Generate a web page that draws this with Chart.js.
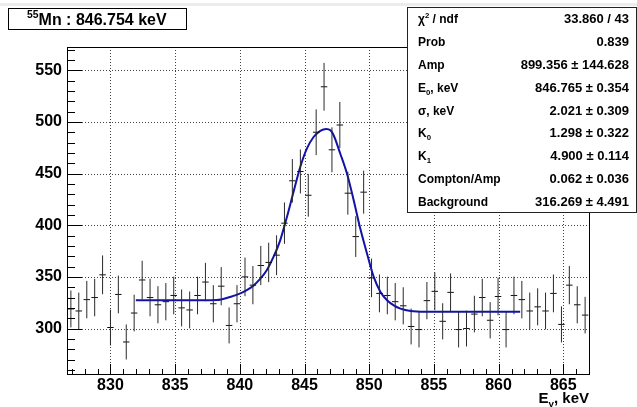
<!DOCTYPE html>
<html>
<head>
<meta charset="utf-8">
<script src="https://cdn.jsdelivr.net/npm/chart.js@4/dist/chart.umd.min.js"></script>
<style>
  html, body { margin: 0; padding: 0; background: #fff; }
  #wrap { width: 637px; height: 407px; }
</style>
</head>
<body>
<div id="wrap"><canvas id="spectrum" width="637" height="407"></canvas></div>
<script>
// bin centres, keV
const energies = [
  826.94, 827.55, 828.17, 828.78, 829.39, 830.00, 830.61, 831.22, 831.83, 832.45,
  833.06, 833.67, 834.28, 834.89, 835.50, 836.12, 836.73, 837.34, 837.95, 838.56,
  839.17, 839.78, 840.40, 841.01, 841.62, 842.23, 842.84, 843.45, 844.06, 844.68,
  845.29, 845.90, 846.51, 847.12, 847.73, 848.35, 848.96, 849.57, 850.18, 850.79,
  851.40, 852.01, 852.63, 853.24, 853.85, 854.46, 855.07, 855.68, 856.29, 856.91,
  857.52, 858.13, 858.74, 859.35, 859.96, 860.58, 861.19, 861.80, 862.41, 863.02,
  863.63, 864.24, 864.86, 865.47, 866.08, 866.69
];
// counts per bin
const counts = [
  319, 317, 328, 330, 352, 301, 333, 287, 315, 347,
  330, 323, 326, 332, 320, 318, 332, 345, 324, 341,
  303, 324, 350, 342, 361, 364, 371, 402, 443, 452,
  429, 490, 534, 473, 497, 431, 389, 432, 349, 334,
  332, 326, 322, 302, 299, 327, 336, 307, 335, 299,
  300, 314, 330, 308, 331, 299, 332, 328, 317, 321,
  317, 334, 304, 342, 323, 313
];
// fit curve
const fitEnergies = [
  831.96, 836.0, 838.2, 839.25, 840.04, 840.5, 841.05, 841.57, 842.08, 842.6,
  843.12, 843.64, 844.15, 844.67, 845.18, 845.7, 846.22, 846.68, 847.0, 847.25,
  847.76, 848.28, 848.8, 849.31, 849.83, 850.35, 850.87, 851.38, 851.9, 852.42,
  853.2, 854.36, 861.67
];
const fitValues = [
  327.3, 327.3, 327.6, 330.6, 334.0, 337.0, 341.5, 348.0, 356.4, 369.3,
  385.4, 408.0, 432.2, 456.4, 474.2, 485.4, 491.3, 493.2, 491.9, 487.1,
  469.4, 450.0, 424.2, 396.8, 372.6, 350.0, 335.4, 327.4, 322.5, 319.3,
  317.0, 316.3, 316.3
];

const titleText = "^{55}Mn : 846.754 keV";
const xTitle = "E_{\u03b3}, keV";
const statLabels = ["\u03c7^{2} / ndf", "Prob", "Amp", "E_{0}, keV", "\u03c3, keV", "K_{0}", "K_{1}", "Compton/Amp", "Background"];
const statValues = ["33.860 / 43", "0.839", "899.356 \u00b1 144.628", "846.765 \u00b1 0.354", "2.021 \u00b1 0.309",
                    "1.298 \u00b1 0.322", "4.900 \u00b1 0.114", "0.062 \u00b1 0.036", "316.269 \u00b1 4.491"];

const FONT = '"Liberation Sans", Arial, Helvetica, sans-serif';
const halfBin = 0.25;

// error bars as broken line segments
let vBars = [], hBars = [];
energies.forEach((e, i) => {
  const c = counts[i], err = Math.sqrt(c);
  vBars.push({x: e, y: c - err}, {x: e, y: c + err}, {x: e, y: null});
  hBars.push({x: e - halfBin, y: c}, {x: e + halfBin, y: c}, {x: e, y: null});
});
const fitPts = fitEnergies.map((e, i) => ({x: e, y: fitValues[i]}));

// text with ^{} and _{} like ROOT latex
function drawRich(ctx, str, x, y, size, align) {
  const parts = [];
  const re = /([_^])\{([^}]*)\}/g;
  let last = 0, m;
  while ((m = re.exec(str))) {
    if (m.index > last) parts.push({t: str.slice(last, m.index), k: ''});
    parts.push({t: m[2], k: m[1]});
    last = re.lastIndex;
  }
  if (last < str.length) parts.push({t: str.slice(last), k: ''});
  let w = 0;
  parts.forEach(p => {
    p.s = p.k ? size * 0.65 : size;
    ctx.font = 'bold ' + p.s + 'px ' + FONT;
    p.w = ctx.measureText(p.t).width;
    w += p.w;
  });
  let cx = align === 'right' ? x - w : x;
  parts.forEach(p => {
    ctx.font = 'bold ' + p.s + 'px ' + FONT;
    const dy = p.k === '^' ? -size * 0.45 : (p.k === '_' ? size * 0.25 : 0);
    ctx.fillText(p.t, cx, y + dy);
    cx += p.w;
  });
}

function seg(ctx, x1, y1, x2, y2) {
  ctx.beginPath(); ctx.moveTo(x1, y1); ctx.lineTo(x2, y2); ctx.stroke();
}

const rootFrame = {
  id: 'rootFrame',
  beforeDatasetsDraw(chart) {
    const {ctx, chartArea: a, scales: {x, y}} = chart;
    ctx.save();
    ctx.strokeStyle = '#444';
    ctx.lineWidth = 1;
    ctx.setLineDash([1, 2]);
    x.ticks.forEach(t => {
      const px = Math.round(x.getPixelForValue(t.value)) + 0.5;
      seg(ctx, px, a.top, px, a.bottom);
    });
    y.ticks.forEach(t => {
      const py = Math.round(y.getPixelForValue(t.value)) + 0.5;
      seg(ctx, a.left, py, a.right, py);
    });
    ctx.restore();
  },
  afterDatasetsDraw(chart) {
    const {ctx, chartArea: a, scales: {x, y}} = chart;
    ctx.save();
    ctx.strokeStyle = '#000';
    ctx.lineWidth = 1;
    // x ticks, inward
    for (let v = Math.ceil(x.min); v <= x.max; v += 1) {
      const px = Math.round(x.getPixelForValue(v)) + 0.5;
      const len = v % 5 === 0 ? 10 : 5;
      seg(ctx, px, a.bottom, px, a.bottom - len);
    }
    // y ticks, inward
    for (let v = Math.ceil(y.min / 10) * 10; v <= y.max; v += 10) {
      const py = Math.round(y.getPixelForValue(v)) + 0.5;
      const len = v % 50 === 0 ? 15 : 8;
      seg(ctx, a.left, py, a.left + len, py);
    }
    ctx.strokeRect(Math.round(a.left) + 0.5, Math.round(a.top) + 0.5,
                   Math.round(a.right - a.left), Math.round(a.bottom - a.top));
    ctx.restore();
  },
  afterDraw(chart) {
    const {ctx, chartArea: a} = chart;
    ctx.save();
    // faint band of the canvas edge
    ctx.fillStyle = '#ececec';
    ctx.fillRect(0, 3, 637, 3);

    // title box
    ctx.fillStyle = '#fff';
    ctx.fillRect(8.5, 8.5, 178, 21);
    ctx.strokeStyle = '#000';
    ctx.lineWidth = 1;
    ctx.strokeRect(8.5, 8.5, 178, 21);
    ctx.fillStyle = '#000';
    drawRich(ctx, titleText, 27, 25, 16, 'left');

    // stats box
    const bx = 407.5, by = 7.5, bw = 229, bh = 205;
    ctx.fillStyle = '#fff';
    ctx.fillRect(bx, by, bw, bh);
    ctx.strokeStyle = '#222';
    ctx.strokeRect(bx, by, bw, bh);
    ctx.fillStyle = '#000';
    const rowH = bh / statLabels.length;
    statLabels.forEach((lab, i) => {
      const cy = by + rowH * (i + 0.5) + 4.5;
      drawRich(ctx, lab, 418, cy, 12, 'left');
      drawRich(ctx, statValues[i], 629, cy, 13, 'right');
    });

    // axis title
    drawRich(ctx, xTitle, a.right, 403, 15, 'right');
    ctx.restore();
  }
};

const tickFont = {family: FONT, size: 16, weight: 'bold'};

new Chart(document.getElementById('spectrum'), {
  type: 'scatter',
  data: {
    datasets: [
      {
        label: 'errors',
        data: vBars,
        showLine: true,
        spanGaps: false,
        borderColor: '#2a2a2a',
        borderWidth: 1,
        pointRadius: 0
      },
      {
        label: 'bins',
        data: hBars,
        showLine: true,
        spanGaps: false,
        borderColor: '#111',
        borderWidth: 1,
        pointRadius: 0
      },
      {
        label: 'fit',
        type: 'line',
        data: fitPts,
        borderColor: '#1212a6',
        borderWidth: 2,
        pointRadius: 0,
        cubicInterpolationMode: 'monotone',
        fill: false
      }
    ]
  },
  options: {
    responsive: false,
    animation: false,
    devicePixelRatio: 1,
    layout: {padding: {left: 0, right: 48, top: 47, bottom: 0}},
    plugins: {legend: {display: false}, tooltip: {enabled: false}, title: {display: false}},
    scales: {
      x: {
        type: 'linear',
        min: 826.64,
        max: 866.99,
        grid: {display: false, drawTicks: false, tickLength: 0},
        border: {display: false},
        ticks: {stepSize: 5, includeBounds: false, font: tickFont, color: '#000', padding: 2, maxRotation: 0},
        afterFit: s => { s.height = 33; }
      },
      y: {
        type: 'linear',
        min: 256,
        max: 572.5,
        grid: {display: false, drawTicks: false, tickLength: 0},
        border: {display: false},
        ticks: {stepSize: 50, includeBounds: false, font: tickFont, color: '#000', padding: 5},
        afterFit: s => { s.width = 67; }
      }
    }
  },
  plugins: [rootFrame]
});
</script>
</body>
</html>
